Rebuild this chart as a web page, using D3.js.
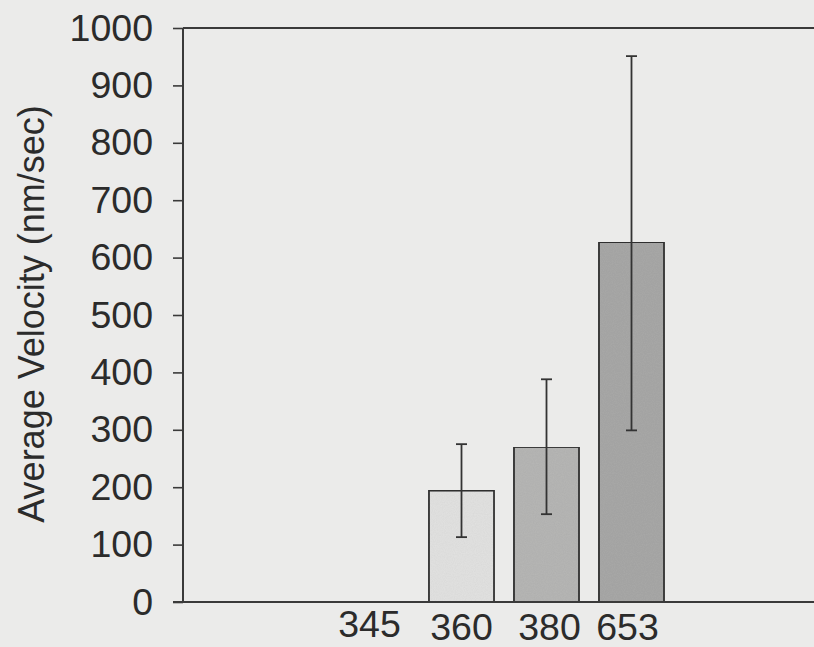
<!DOCTYPE html>
<html>
<head>
<meta charset="utf-8">
<script src="https://cdn.jsdelivr.net/npm/d3@7"></script>
<style>
  html, body { margin: 0; padding: 0; background: #ebebea; }
  svg { display: block; }
</style>
</head>
<body>
<svg id="chart" width="814" height="647"></svg>
<script>
// ---- data ----
const categories = ["345", "360", "380", "653"];
const meanVelocity = [null, 194, 270, 627];
const errLow = [null, 113, 153, 299];
const errHigh = [null, 275, 388, 951];
const yTicks = [0, 100, 200, 300, 400, 500, 600, 700, 800, 900, 1000];
const barFills = ["#e3e3e2", "#e3e3e2", "#b7b7b6", "#a9a9a8"];

// ---- drawing ----
const svg = d3.select("#chart");
const W = 814, H = 647;
const axisColor = "#3a3a3a";
const textColor = "#2b2b2b";
const font = "'Liberation Sans', Arial, sans-serif";

// subtle paper texture
const defs = svg.append("defs");
const f = defs.append("filter").attr("id", "grain").attr("x", 0).attr("y", 0).attr("width", 1).attr("height", 1);
f.append("feTurbulence").attr("type", "fractalNoise").attr("baseFrequency", 0.9).attr("numOctaves", 2).attr("seed", 3).attr("result", "n");
f.append("feColorMatrix").attr("in", "n").attr("type", "matrix")
  .attr("values", "0 0 0 0 0  0 0 0 0 0  0 0 0 0 0  0 0 0 0.10 0").attr("result", "a");
f.append("feComposite").attr("in", "a").attr("in2", "SourceGraphic").attr("operator", "in").attr("result", "b");
const fm = f.append("feMerge");
fm.append("feMergeNode").attr("in", "SourceGraphic");
fm.append("feMergeNode").attr("in", "b");

svg.append("rect").attr("width", W).attr("height", H).attr("fill", "#ebebea");

const y = d3.scaleLinear().domain([0, 1000]).range([602, 28]);
const x = d3.scaleBand().domain(categories).range([334, 674]).paddingInner(0.235).paddingOuter(0.1175);
const axisX = 183;

// bars
const rows = categories.map((c, i) => ({ c, v: meanVelocity[i], lo: errLow[i], hi: errHigh[i], fill: barFills[i] }))
  .filter(d => d.v != null);

svg.append("g").selectAll("rect").data(rows).join("rect")
  .attr("x", d => x(d.c))
  .attr("y", d => y(d.v))
  .attr("width", x.bandwidth())
  .attr("height", d => y(0) - y(d.v))
  .attr("fill", d => d.fill)
  .attr("stroke", "#333")
  .attr("stroke-width", 1.8)
  .attr("filter", "url(#grain)");

// error bars
const eg = svg.append("g").attr("stroke", "#333").attr("stroke-width", 1.8);
rows.forEach(d => {
  const cx = x(d.c) + x.bandwidth() / 2;
  eg.append("line").attr("x1", cx).attr("x2", cx).attr("y1", y(d.hi)).attr("y2", y(d.lo));
  eg.append("line").attr("x1", cx - 5.5).attr("x2", cx + 5.5).attr("y1", y(d.hi)).attr("y2", y(d.hi));
  eg.append("line").attr("x1", cx - 5.5).attr("x2", cx + 5.5).attr("y1", y(d.lo)).attr("y2", y(d.lo));
});

// y axis
const yAxis = d3.axisLeft(y).tickValues(yTicks).tickSize(10).tickPadding(20).tickFormat(d3.format("d"));
const yg = svg.append("g").attr("transform", `translate(${axisX},0)`).call(yAxis);
yg.select(".domain").attr("stroke", axisColor).attr("stroke-width", 2).attr("d", `M0,${y(1000)}V${y(0)}`);
yg.selectAll(".tick line").attr("stroke", axisColor).attr("stroke-width", 1.6);
yg.selectAll(".tick text").attr("fill", textColor).attr("font-family", font).attr("font-size", 37.5);

// top frame line and bottom baseline
svg.append("line").attr("x1", axisX).attr("x2", W + 5).attr("y1", y(1000)).attr("y2", y(1000))
  .attr("stroke", axisColor).attr("stroke-width", 2);
svg.append("line").attr("x1", axisX - 10).attr("x2", W + 5).attr("y1", y(0)).attr("y2", y(0))
  .attr("stroke", axisColor).attr("stroke-width", 2);

// x labels
const xAxis = d3.axisBottom(x).tickSize(0).tickPadding(0);
const xg = svg.append("g").attr("transform", `translate(0,${y(0)})`).call(xAxis);
xg.select(".domain").remove();
xg.selectAll(".tick text")
  .attr("fill", textColor).attr("font-family", font).attr("font-size", 37.5)
  .attr("dy", null)
  .attr("y", (d, i) => i === 0 ? 35 : 38)
  .attr("dx", (d, i) => [-7, 0, 3, -4][i]);

// y title
svg.append("text")
  .attr("transform", "translate(44,314) rotate(-90)")
  .attr("text-anchor", "middle")
  .attr("fill", textColor)
  .attr("font-family", font)
  .attr("font-size", 36)
  .text("Average Velocity (nm/sec)");
</script>
</body>
</html>
